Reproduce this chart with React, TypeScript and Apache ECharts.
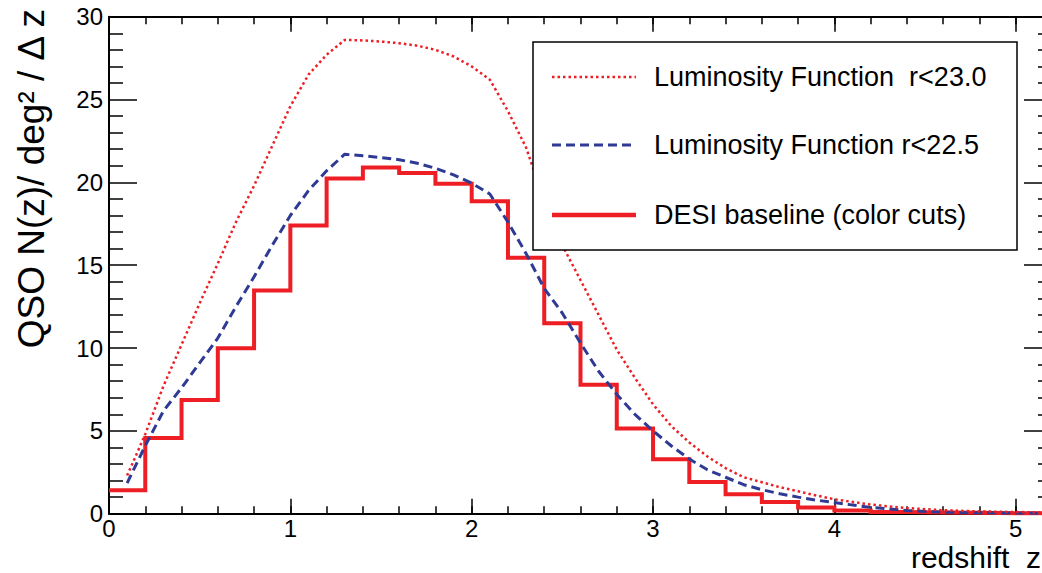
import React, { useEffect, useRef } from "react";
import * as echarts from "echarts";

// ---- data ----
const X_MIN = 0;
const X_MAX = 5.2;
const Y_MIN = 0;
const Y_MAX = 30;

// DESI baseline histogram: left bin edges (width 0.2) and contents
const histLeftEdges = [0, 0.2, 0.4, 0.6, 0.8, 1.0, 1.2, 1.4, 1.6, 1.8, 2.0, 2.2, 2.4, 2.6, 2.8, 3.0, 3.2, 3.4, 3.6, 3.8, 4.0, 4.2, 4.4, 4.6, 4.8, 5.0];
const histValues = [1.41, 4.57, 6.86, 9.98, 13.47, 17.39, 20.24, 20.9, 20.57, 19.92, 18.86, 15.45, 11.5, 7.78, 5.14, 3.29, 1.92, 1.17, 0.71, 0.38, 0.2, 0.1, 0.07, 0.05, 0.03, 0.02];

// Luminosity function r<22.5 (blue dashed)
const lf225X = [0.1, 0.2, 0.3, 0.4, 0.5, 0.6, 0.7, 0.8, 0.9, 1.0, 1.1, 1.2, 1.3, 1.4, 1.5, 1.6, 1.7, 1.8, 1.9, 2.0, 2.1, 2.2, 2.3, 2.4, 2.5, 2.6, 2.7, 2.8, 2.9, 3.0, 3.1, 3.2, 3.3, 3.4, 3.5, 3.6, 3.7, 3.8, 3.9, 4.0, 4.2, 4.4, 4.6, 4.8, 5.0, 5.2];
const lf225Y = [1.85, 4.1, 6.2, 7.6, 9.1, 10.6, 12.5, 14.3, 16.2, 18.0, 19.5, 20.7, 21.7, 21.6, 21.5, 21.37, 21.15, 20.85, 20.45, 19.95, 19.3, 17.6, 15.7, 13.6, 12.1, 10.3, 8.6, 7.2, 6.0, 5.0, 4.1, 3.3, 2.65, 2.2, 1.75, 1.45, 1.2, 1.0, 0.82, 0.67, 0.38, 0.19, 0.09, 0.06, 0.04, 0.03];

// Luminosity function r<23.0 (red dotted)
const lf230X = [0.1, 0.2, 0.3, 0.4, 0.5, 0.6, 0.7, 0.8, 0.9, 1.0, 1.1, 1.2, 1.3, 1.4, 1.5, 1.6, 1.7, 1.8, 1.9, 2.0, 2.1, 2.2, 2.3, 2.4, 2.5, 2.6, 2.7, 2.8, 2.9, 3.0, 3.1, 3.2, 3.3, 3.4, 3.5, 3.6, 3.7, 3.8, 3.9, 4.0, 4.2, 4.4, 4.6, 4.8, 5.0, 5.2];
const lf230Y = [2.3, 4.8, 7.7, 10.2, 12.7, 15.1, 17.6, 19.8, 22.2, 24.6, 26.5, 27.7, 28.6, 28.57, 28.5, 28.4, 28.25, 28.0, 27.6, 27.0, 26.2, 24.3, 22.1, 18.9, 16.2, 14.1, 12.0, 9.9, 8.2, 6.6, 5.3, 4.3, 3.45, 2.75, 2.2, 1.9, 1.6, 1.35, 1.1, 0.87, 0.55, 0.34, 0.21, 0.14, 0.1, 0.07];

const legendLabels = [
  "Luminosity Function  r<23.0",
  "Luminosity Function r<22.5",
  "DESI baseline (color cuts)",
];
const yTitle = "QSO N(z)/ deg² / Δ z";
const xTitle = "redshift  z";

const RED = "#ed1f24";
const BLUE = "#2e3a94";
const FONT = '"Liberation Sans", Arial, Helvetica, sans-serif';

export default function App() {
  const ref = useRef<HTMLDivElement>(null);

  useEffect(() => {
    if (!ref.current) return;
    const chart = echarts.init(ref.current, undefined, { renderer: "svg" });

    const histData: number[][] = histLeftEdges.map((x, i) => [x, histValues[i]]);
    histData.push([X_MAX, histValues[histValues.length - 1]]);
    const blueData = lf225X.map((x, i) => [x, lf225Y[i]]);
    const dotData = lf230X.map((x, i) => [x, lf230Y[i]]);

    const black = "#000";
    const majorX = (position: string, labels: boolean) => ({
      type: "value",
      min: X_MIN,
      max: X_MAX,
      interval: 1,
      position,
      axisLine: { show: true, onZero: false, lineStyle: { color: black, width: 2 } },
      axisTick: { show: true, inside: true, length: 15, lineStyle: { color: black, width: 1.5 } },
      axisLabel: {
        show: labels,
        fontSize: 24,
        color: black,
        fontFamily: FONT,
        margin: 3,
        showMaxLabel: false,
        formatter: (v: number) => (Math.abs(v - Math.round(v)) < 1e-6 ? String(Math.round(v)) : ""),
      },
      splitLine: { show: false },
    });
    const minorX = (position: string) => ({
      type: "value",
      min: X_MIN,
      max: X_MAX,
      interval: 0.2,
      position,
      axisLine: { show: false, onZero: false },
      axisTick: { show: true, inside: true, length: 7.5, lineStyle: { color: black, width: 1.5 } },
      axisLabel: { show: false },
      splitLine: { show: false },
    });
    const yAx = (position: string, labels: boolean) => ({
      type: "value",
      min: Y_MIN,
      max: Y_MAX,
      interval: 5,
      position,
      axisLine: { show: true, onZero: false, lineStyle: { color: black, width: 2 } },
      axisTick: { show: true, inside: true, length: 28, lineStyle: { color: black, width: 1.5 } },
      minorTick: { show: true, splitNumber: 5, length: 14, lineStyle: { color: black, width: 1.5 } },
      axisLabel: { show: labels, fontSize: 24, color: black, fontFamily: FONT, margin: 6 },
      splitLine: { show: false },
      minorSplitLine: { show: false },
    });

    const legX0 = 533;
    const legY0 = 42;
    const legW = 484;
    const legH = 208;
    const rowY = [77, 145, 215];

    chart.setOption({
      animation: false,
      backgroundColor: "#fff",
      grid: {
        left: 109,
        top: 16.7,
        right: 8,
        bottom: 59.3,
        containLabel: false,
        outerBoundsMode: "none",
      },
      xAxis: [majorX("bottom", true), minorX("bottom"), majorX("top", false), minorX("top")],
      yAxis: [yAx("left", true), yAx("right", false)],
      series: [
        {
          type: "line",
          name: legendLabels[2],
          step: "end",
          data: histData,
          symbol: "none",
          showSymbol: false,
          lineStyle: { color: RED, width: 4, join: "miter" },
          xAxisIndex: 0,
          yAxisIndex: 0,
          z: 3,
        },
        {
          type: "line",
          name: legendLabels[1],
          data: blueData,
          symbol: "none",
          showSymbol: false,
          lineStyle: { color: BLUE, width: 3, type: [9, 5] },
          xAxisIndex: 0,
          yAxisIndex: 0,
          z: 4,
        },
        {
          type: "line",
          name: legendLabels[0],
          data: dotData,
          symbol: "none",
          showSymbol: false,
          lineStyle: { color: RED, width: 2.5, type: [2.5, 3] },
          xAxisIndex: 0,
          yAxisIndex: 0,
          z: 5,
        },
      ],
      graphic: [
        {
          type: "rect",
          z: 100,
          shape: { x: legX0, y: legY0, width: legW, height: legH },
          style: { fill: "#fff", stroke: black, lineWidth: 1.5 },
        },
        {
          type: "line",
          z: 101,
          shape: { x1: 552, y1: rowY[0], x2: 636, y2: rowY[0] },
          style: { stroke: RED, lineWidth: 2.5, lineDash: [2.5, 3] },
        },
        {
          type: "line",
          z: 101,
          shape: { x1: 552, y1: rowY[1], x2: 636, y2: rowY[1] },
          style: { stroke: BLUE, lineWidth: 3, lineDash: [9, 5] },
        },
        {
          type: "line",
          z: 101,
          shape: { x1: 552, y1: rowY[2], x2: 636, y2: rowY[2] },
          style: { stroke: RED, lineWidth: 4.5 },
        },
        ...legendLabels.map((t, i) => ({
          type: "text",
          z: 101,
          x: 654,
          y: rowY[i],
          style: {
            text: t,
            fontSize: 27,
            fontFamily: FONT,
            fill: black,
            align: "left",
            verticalAlign: "middle",
          },
        })),
        {
          type: "text",
          z: 101,
          x: 31,
          y: 9,
          rotation: Math.PI / 2,
          style: {
            text: yTitle,
            fontSize: 37,
            fontFamily: FONT,
            fill: black,
            align: "right",
            verticalAlign: "middle",
          },
        },
        {
          type: "text",
          z: 101,
          x: 1041,
          y: 557,
          style: {
            text: xTitle,
            fontSize: 30,
            fontFamily: FONT,
            fill: black,
            align: "right",
            verticalAlign: "middle",
          },
        },
      ],
    });

    return () => {
      chart.dispose();
    };
  }, []);

  return (
    <div
      style={{
        position: "fixed",
        left: 0,
        top: 0,
        width: 1042,
        height: 573,
        overflow: "hidden",
        background: "#fff",
      }}
    >
      <div ref={ref} style={{ width: 1060, height: 573 }} />
    </div>
  );
}
